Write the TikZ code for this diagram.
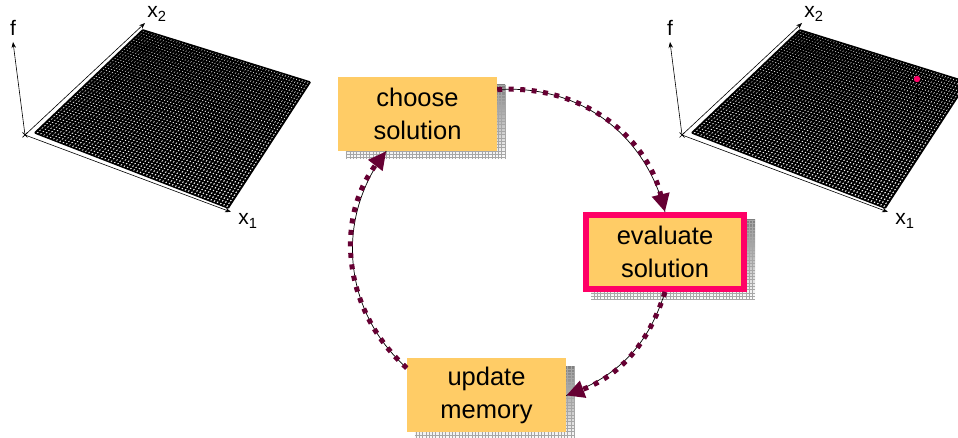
\documentclass[tikz,border=0pt]{standalone}
\usepackage{fontspec}
\setmainfont{Liberation Sans}
\usepackage{xcolor}
\usepackage{tikz}
\usetikzlibrary{calc, arrows.meta}
\pgfdeclarelayer{background}
\pgfsetlayers{background,main}
\definecolor{boxfill}{HTML}{FFCC66}
\definecolor{hilite}{HTML}{FF0066}
\definecolor{wine}{HTML}{660033}
\definecolor{shade}{HTML}{C6C6C6}
\tikzstyle{process} = [rectangle, minimum width=159pt, minimum height=74pt, inner sep=0pt, align=center, fill=boxfill, font=\fontsize{25.5}{33}\selectfont]
\tikzstyle{current} = [process, draw=hilite, line width=6pt, minimum width=158pt, minimum height=74pt]
\tikzstyle{wire}    = [black, line width=0.7pt]
\tikzstyle{link}    = [wine, line width=5pt, dash pattern=on 5pt off 6.5pt, -{Triangle[length=18pt, width=17pt]}]
\tikzstyle{axis}    = [black, line width=0.6pt, -{Stealth[length=6pt, width=4.5pt]}]
\tikzstyle{axlabel} = [inner sep=0pt, font=\fontsize{21}{21}\selectfont]
\tikzstyle{meshA}   = [black, line width=2pt]
\tikzstyle{meshB}   = [black, line width=1.5pt]

\begin{document}
\begin{tikzpicture}[x=1pt, y=1pt]
    \clip (0,0) rectangle (958,438);

    \node (choose)   [process] at (417.5,324)  {choose\\solution};
    \node (evaluate) [current] at (665,186)    {evaluate\\solution};
    \node (update)   [process] at (486.5,42.5) {update\\memory};

    % arrows
    \foreach \from/\to/\bend in {choose.17/evaluate.north/40, evaluate.south/update.east/26, update.161/choose.230/43} {
      \draw [wire] (\from) to[bend left=\bend] (\to);
      \draw [link] (\from) to[bend left=\bend] (\to);
    }

    % landscapes
    \foreach \dx/\p in {0/l, 657/r} {
      \begin{scope}[shift={(\dx,0)}]
        \coordinate (A-\p) at (35,305);
        \coordinate (B-\p) at (143,408);
        \coordinate (C-\p) at (310,356);
        \coordinate (D-\p) at (228,230);
        \foreach \i in {0,...,60} {
          \draw [meshA] ($(A-\p)!\i/60!(D-\p)$) -- ($(B-\p)!\i/60!(C-\p)$);
        }
        \foreach \i in {0,...,46} {
          \draw [meshB] ($(A-\p)!\i/46!(B-\p)$) -- ($(D-\p)!\i/46!(C-\p)$);
        }
        \coordinate (o-\p)   at (25,303);
        \coordinate (fe-\p)  at (13,396);
        \coordinate (x2e-\p) at (145,415);
        \coordinate (x1e-\p) at (231,226);
        \draw [axis] (o-\p) -- (fe-\p);
        \draw [axis] (o-\p) -- (x2e-\p);
        \draw [axis] (o-\p) -- (x1e-\p);
        \draw [wire] (o-\p) +(-2.5,-2.5) -- +(2.5,2.5) +(-2.5,2.5) -- +(2.5,-2.5);
        \node (f-\p)  [axlabel] at (13,410)  {f};
        \node (x2-\p) [axlabel] at (157,424) {x\textsubscript{2}};
        \node (x1-\p) [axlabel] at (248,217) {x\textsubscript{1}};
      \end{scope}
    }

    % current solution
    \coordinate (best) at (917,359);
    \draw [wire] (best) -- (917,331);
    \fill [hilite] (best) circle (3.2);

    \begin{pgfonlayer}{background}
      \foreach \n in {choose, evaluate, update} {
        \fill [shade] ([shift={(8,-8)}]\n.north west) rectangle ([shift={(8,-8)}]\n.south east);
        \draw [gray!70, line width=0.3pt, step=3.3] ([shift={(8,-8)}]\n.north west) grid ([shift={(8,-8)}]\n.south east);
      }
    \end{pgfonlayer}

  \end{tikzpicture}
\end{document}
